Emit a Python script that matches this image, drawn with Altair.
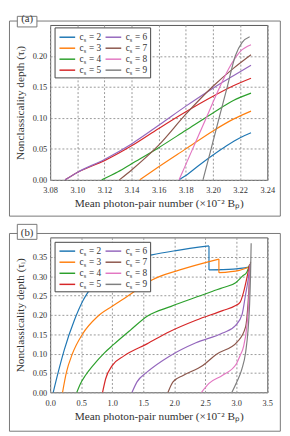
import altair as alt
import pandas as pd

SERIES = [2, 3, 4, 5, 6, 7, 8, 9]
COLORS = ["#1f77b4", "#ff7f0e", "#2ca02c", "#d62728", "#9467bd", "#8c564b", "#e377c2", "#7f7f7f"]
LABELS = [f"c{s}" for s in SERIES]
FONT = "Liberation Serif"
XTITLE = "Mean photon-pair number (×10⁻² Bₚ)"
YTITLE = "Nonclassicality depth (τᵢ)"

# ---- panel (a) ----
a2_x = [3.175, 3.18, 3.19, 3.20, 3.21, 3.22, 3.228]
a2_y = [0.0, 0.007, 0.024, 0.040, 0.055, 0.068, 0.076]
a3_x = [3.146, 3.16, 3.18, 3.20, 3.215, 3.228]
a3_y = [0.0, 0.021, 0.050, 0.079, 0.098, 0.111]
a4_x = [3.118, 3.13, 3.14, 3.16, 3.18, 3.20, 3.215, 3.228]
a4_y = [0.0, 0.013, 0.026, 0.052, 0.080, 0.108, 0.128, 0.140]
a5_x = [3.091, 3.10, 3.12, 3.14, 3.16, 3.18, 3.20, 3.215, 3.228]
a5_y = [0.0, 0.012, 0.031, 0.055, 0.083, 0.110, 0.135, 0.152, 0.164]
a6_x = [3.091, 3.10, 3.12, 3.14, 3.16, 3.18, 3.20, 3.215, 3.228]
a6_y = [0.0, 0.012, 0.033, 0.058, 0.088, 0.119, 0.148, 0.168, 0.185]
a7_x = [3.131, 3.14, 3.16, 3.18, 3.20, 3.215, 3.228]
a7_y = [0.0, 0.016, 0.056, 0.106, 0.151, 0.180, 0.202]
a8_x = [3.175, 3.185, 3.195, 3.205, 3.213, 3.22, 3.228]
a8_y = [0.0, 0.05, 0.10, 0.15, 0.185, 0.207, 0.218]
a9_x = [3.1926, 3.1986, 3.2045, 3.2105, 3.2164, 3.2215, 3.227]
a9_y = [0.0, 0.05, 0.10, 0.15, 0.20, 0.222, 0.231]

# ---- panel (b) ----
b2_x = [0.05, 0.13, 0.23, 0.39, 0.53, 0.66, 0.81, 1.02, 1.32, 1.64, 2.03, 2.56, 2.56, 2.95, 3.22]
b2_y = [0.0, 0.052, 0.111, 0.186, 0.237, 0.270, 0.300, 0.323, 0.343, 0.355, 0.366, 0.378, 0.316, 0.318, 0.324]
b3_x = [0.20, 0.26, 0.36, 0.52, 0.76, 1.00, 1.20, 1.40, 1.64, 2.09, 2.72, 2.72, 3.05, 3.22]
b3_y = [0.0, 0.05, 0.10, 0.15, 0.195, 0.222, 0.243, 0.265, 0.290, 0.316, 0.344, 0.309, 0.315, 0.325]
b4_x = [0.43, 0.49, 0.57, 0.69, 0.875, 1.02, 1.29, 1.57, 1.95, 2.43, 2.62, 2.78, 2.99, 3.10, 3.17, 3.215]
b4_y = [0.0, 0.023, 0.044, 0.069, 0.102, 0.123, 0.160, 0.197, 0.222, 0.250, 0.261, 0.270, 0.283, 0.300, 0.310, 0.330]
b5_x = [0.845, 0.895, 1.00, 1.19, 1.56, 1.93, 2.35, 2.78, 2.99, 3.06, 3.12, 3.17, 3.215]
b5_y = [0.0, 0.035, 0.069, 0.094, 0.125, 0.157, 0.186, 0.211, 0.224, 0.232, 0.260, 0.295, 0.330]
b6_x = [1.32, 1.40, 1.56, 1.93, 2.35, 2.78, 2.99, 3.095, 3.15, 3.19, 3.22]
b6_y = [0.0, 0.027, 0.052, 0.094, 0.128, 0.153, 0.173, 0.202, 0.2525, 0.29, 0.329]
b7_x = [1.90, 1.98, 2.15, 2.46, 2.67, 3.02, 3.15, 3.19, 3.215, 3.23]
b7_y = [0.0, 0.027, 0.044, 0.069, 0.097, 0.131, 0.169, 0.23, 0.30, 0.337]
b8_x = [2.44, 2.56, 2.78, 3.00, 3.06, 3.12, 3.17, 3.20, 3.225]
b8_y = [0.0, 0.023, 0.044, 0.073, 0.094, 0.12, 0.17, 0.23, 0.33]
b9_x = [2.93, 3.01, 3.09, 3.15, 3.19, 3.215, 3.23, 3.24]
b9_y = [0.0, 0.027, 0.060, 0.102, 0.161, 0.228, 0.304, 0.385]

A_X = [a2_x, a3_x, a4_x, a5_x, a6_x, a7_x, a8_x, a9_x]
A_Y = [a2_y, a3_y, a4_y, a5_y, a6_y, a7_y, a8_y, a9_y]
B_X = [b2_x, b3_x, b4_x, b5_x, b6_x, b7_x, b8_x, b9_x]
B_Y = [b2_y, b3_y, b4_y, b5_y, b6_y, b7_y, b8_y, b9_y]

a_xticks = [3.08, 3.10, 3.12, 3.14, 3.16, 3.18, 3.20, 3.22, 3.24]
a_yticks = [0.0, 0.05, 0.10, 0.15, 0.20]
b_xticks = [0.0, 0.5, 1.0, 1.5, 2.0, 2.5, 3.0, 3.5]
b_yticks = [0.0, 0.05, 0.10, 0.15, 0.20, 0.25, 0.30, 0.35]

W, H = 221.5, 158
ONE = pd.DataFrame({"k": [0]})


def split(xs, ys):
    pts = list(zip(xs, ys))
    segs, cur = [], [pts[0]]
    for p in pts[1:]:
        if p[0] == cur[-1][0]:
            segs.append(cur)
            segs.append([cur[-1], p])
            cur = [p]
        else:
            cur.append(p)
    segs.append(cur)
    return segs


def deco_rect(x1, x2, y1, y2, **kw):
    return alt.Chart(ONE).mark_rect(**kw).encode(
        x=alt.value(x1), x2=alt.value(x2), y=alt.value(y1), y2=alt.value(y2))


def deco_text(txt, x, y, size, **kw):
    return alt.Chart(ONE).mark_text(text=txt, font=FONT, fontSize=size, color="#333",
                                    baseline="middle", **kw).encode(
        x=alt.value(x), y=alt.value(y))


def panel(tag, XS, YS, xdom, ydom, xticks, yticks, xfmt, frame_y2, tag_y1, tag_ty, leg_y1, leg_y2, row0, drow):
    rows = []
    for lab, xs, ys in zip(LABELS, XS, YS):
        for j, seg in enumerate(split(xs, ys)):
            for i, (x, y) in enumerate(seg):
                rows.append({"s": lab, "seg": f"{lab}-{j}", "x": x, "y": y, "i": i})
    df = pd.DataFrame(rows)
    lines = alt.Chart(df).mark_line(strokeWidth=1.2, interpolate="monotone").encode(
        x=alt.X("x:Q", scale=alt.Scale(domain=xdom, nice=False, zero=False),
                axis=alt.Axis(values=xticks, format=xfmt, title=XTITLE, grid=True,
                              gridDash=[2, 2], gridColor="#999", ticks=False, domain=False,
                              labelFlush=False, labelOverlap=False,
                              labelFont=FONT, labelFontSize=8.5, labelColor="#333", labelPadding=6,
                              titleFont=FONT, titleFontSize=11.5, titleFontWeight="normal",
                              titleColor="#333", titlePadding=4)),
        y=alt.Y("y:Q", scale=alt.Scale(domain=ydom, nice=False, zero=False),
                axis=alt.Axis(values=yticks, format=".2f", title=YTITLE, grid=True,
                              gridDash=[2, 2], gridColor="#999", ticks=False, domain=False,
                              labelFlush=False, labelOverlap=False,
                              labelFont=FONT, labelFontSize=8.5, labelColor="#333", labelPadding=3.5,
                              titleFont=FONT, titleFontSize=11.5, titleFontWeight="normal",
                              titleColor="#333", titlePadding=7)),
        color=alt.Color("s:N", scale=alt.Scale(domain=LABELS, range=COLORS), legend=None),
        detail="seg:N",
        order="i:Q",
    )
    layers = [deco_rect(-41.5, 234.8, -4, frame_y2, filled=False, stroke="#777", strokeWidth=1), lines]
    # legend
    layers.append(deco_rect(5, 102.5, leg_y1, leg_y2, fill="white", stroke="#444", strokeWidth=1))
    for k, s in enumerate(SERIES):
        col, row = k // 4, k % 4
        lx = 9.5 + col * 47
        ly = row0 + row * drow
        layers.append(alt.Chart(ONE).mark_rule(color=COLORS[k], strokeWidth=1.5).encode(
            x=alt.value(lx), x2=alt.value(lx + 16), y=alt.value(ly)))
        tx = lx + 20.5
        layers.append(deco_text("c", tx, ly, 9.5, align="left"))
        layers.append(deco_text("s", tx + 4.3, ly + 2.5, 6.5, align="left"))
        layers.append(deco_text(f"= {s}", tx + 9.6, ly, 9.5, align="left"))
    # tag box
    layers.append(deco_rect(-33.5, -13.5, tag_y1, 2, fill="white", stroke="#777", strokeWidth=1))
    layers.append(deco_text(tag, -23.5, tag_ty, 11, align="center"))
    return alt.layer(*layers).properties(width=W, height=H)


pa = panel("(a)", A_X, A_Y, [3.08, 3.24], [0, 0.25], a_xticks, a_yticks, ".2f",
           195, -8.8, -5.6, 3, 54, 12.5, 11.2)
pb = panel("(b)", B_X, B_Y, [0, 3.5], [0, 0.40], b_xticks, b_yticks, ".1f",
           197.7, -13.3, -4.6, 5, 55.5, 14, 11.3)

chart = alt.vconcat(pa, pb, spacing=5.7).properties(padding=0, background="white").configure_view(
    stroke="#555", strokeWidth=1)

chart.save("out.html", embed_options={"renderer": "svg", "actions": False})
